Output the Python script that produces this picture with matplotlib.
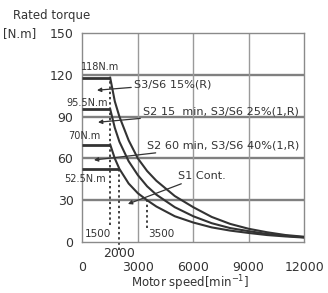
import matplotlib
matplotlib.use("Agg")
import matplotlib.pyplot as plt

# rated torque plateaus [N.m] and where they end [min^-1]
plateau_torque = [118, 95.5, 70, 52.5]
plateau_end = [1500, 1500, 1500, 2000]
plateau_labels = ["118N.m", "95.5N.m", "70N.m", "52.5N.m"]

# falling part of the curves
speed = [1500, 1750, 2000, 2500, 3000, 3500, 4000, 5000, 6000, 7000, 8000, 9000, 10000, 11000, 12000]
torque_s3_15 = [118, 101, 90, 73, 60, 51, 44, 33, 25, 18, 13, 9.5, 7, 5, 3.8]
torque_s2_15 = [95.5, 82, 72, 58, 48, 40, 34, 25, 18.5, 13.5, 10, 7.8, 5.8, 4.5, 3.4]
torque_s2_60 = [70, 60, 52.5, 42, 35, 30, 25.5, 18.5, 14, 10.5, 8.2, 6.5, 5, 4, 3.2]

# marked speeds (dotted lines)
mark_speed = [1500, 2000, 3500]
mark_top = [118, 52.5, 30]
mark_bottom = [12, -6, 10]

xticks = [0, 3000, 6000, 9000, 12000]
yticks = [0, 30, 60, 90, 120, 150]

dark = "#333333"
grey = "#8a8a8a"

fig = plt.figure(figsize=(3.28, 2.93), dpi=100)
ax = fig.add_axes([0.2515, 0.174, 0.6755, 0.713])

ax.set_xlim(0, 12000)
ax.set_ylim(0, 150)

# grid
for y in yticks[1:-1]:
    ax.axhline(y, color="#808080", lw=1.7, zorder=1)
for x in xticks[1:-1]:
    ax.axvline(x, color="#9a9a9a", lw=1.0, zorder=1)
for s in ax.spines.values():
    s.set_color(grey)
    s.set_linewidth(1.0)

# plateaus
for t, e in zip(plateau_torque, plateau_end):
    ax.plot([0, e], [t, t], color=dark, lw=2.0, solid_capstyle="butt", zorder=3)

# curves
for tq in [torque_s3_15, torque_s2_15, torque_s2_60]:
    ax.plot(speed, tq, color=dark, lw=1.5, zorder=3)

# dotted speed markers
for s, top, bot in zip(mark_speed, mark_top, mark_bottom):
    ax.plot([s, s], [bot, top], color=dark, lw=1.3, ls=(0, (1.3, 1.6)),
            clip_on=False, zorder=2)

# plateau labels
label_pos = [(950, 125.6), (250, 99.8), (90, 76), (140, 45.2)]
for lab, (x, y) in zip(plateau_labels, label_pos):
    ax.text(x, y, lab, fontsize=7, color=dark, ha="center", va="center",
            clip_on=False)

ax.text(840, 5.7, "1500", fontsize=7.5, color=dark, ha="center", va="center")
ax.text(3550, 5.7, "3500", fontsize=7.5, color=dark, ha="left", va="center")
ax.text(2000, -8.6, "2000", fontsize=9, color=dark, ha="center", va="center",
        clip_on=False)

# curve names with arrows
arrow = dict(arrowstyle="-|>", color=dark, lw=0.9, mutation_scale=6,
             shrinkA=0, shrinkB=0)
names = ["S3/S6 15%(R)", "S2 15  min, S3/S6 25%(1,R)",
         "S2 60 min, S3/S6 40%(1,R)", "S1 Cont."]
text_pos = [(2790, 113.4), (3280, 94), (3490, 69.6), (5170, 47.4)]
head_pos = [(785, 109), (840, 86), (620, 58.9), (2460, 27.3)]
for n, tp, hp in zip(names, text_pos, head_pos):
    ax.annotate(n, xy=hp, xytext=tp, fontsize=8.1, color=dark,
                ha="left", va="center", arrowprops=arrow, annotation_clip=False)

ax.set_xticks(xticks)
ax.set_yticks(yticks)
ax.tick_params(length=0, labelsize=9, colors=dark)
ax.tick_params(axis="x", pad=14)
ax.tick_params(axis="y", pad=6.5)

fig.text(13 / 328, 1 - 15 / 293, "Rated torque", fontsize=8.5, color=dark,
         ha="left", va="center")
fig.text(3 / 328, 1 - 34 / 293, "[N.m]", fontsize=8.5, color=dark,
         ha="left", va="center")
fig.text(190 / 328, 1 - 283 / 293, "Motor speed[min$^{-1}$]", fontsize=8.5,
         color=dark, ha="center", va="center")

fig.savefig("out.png", dpi=100)
